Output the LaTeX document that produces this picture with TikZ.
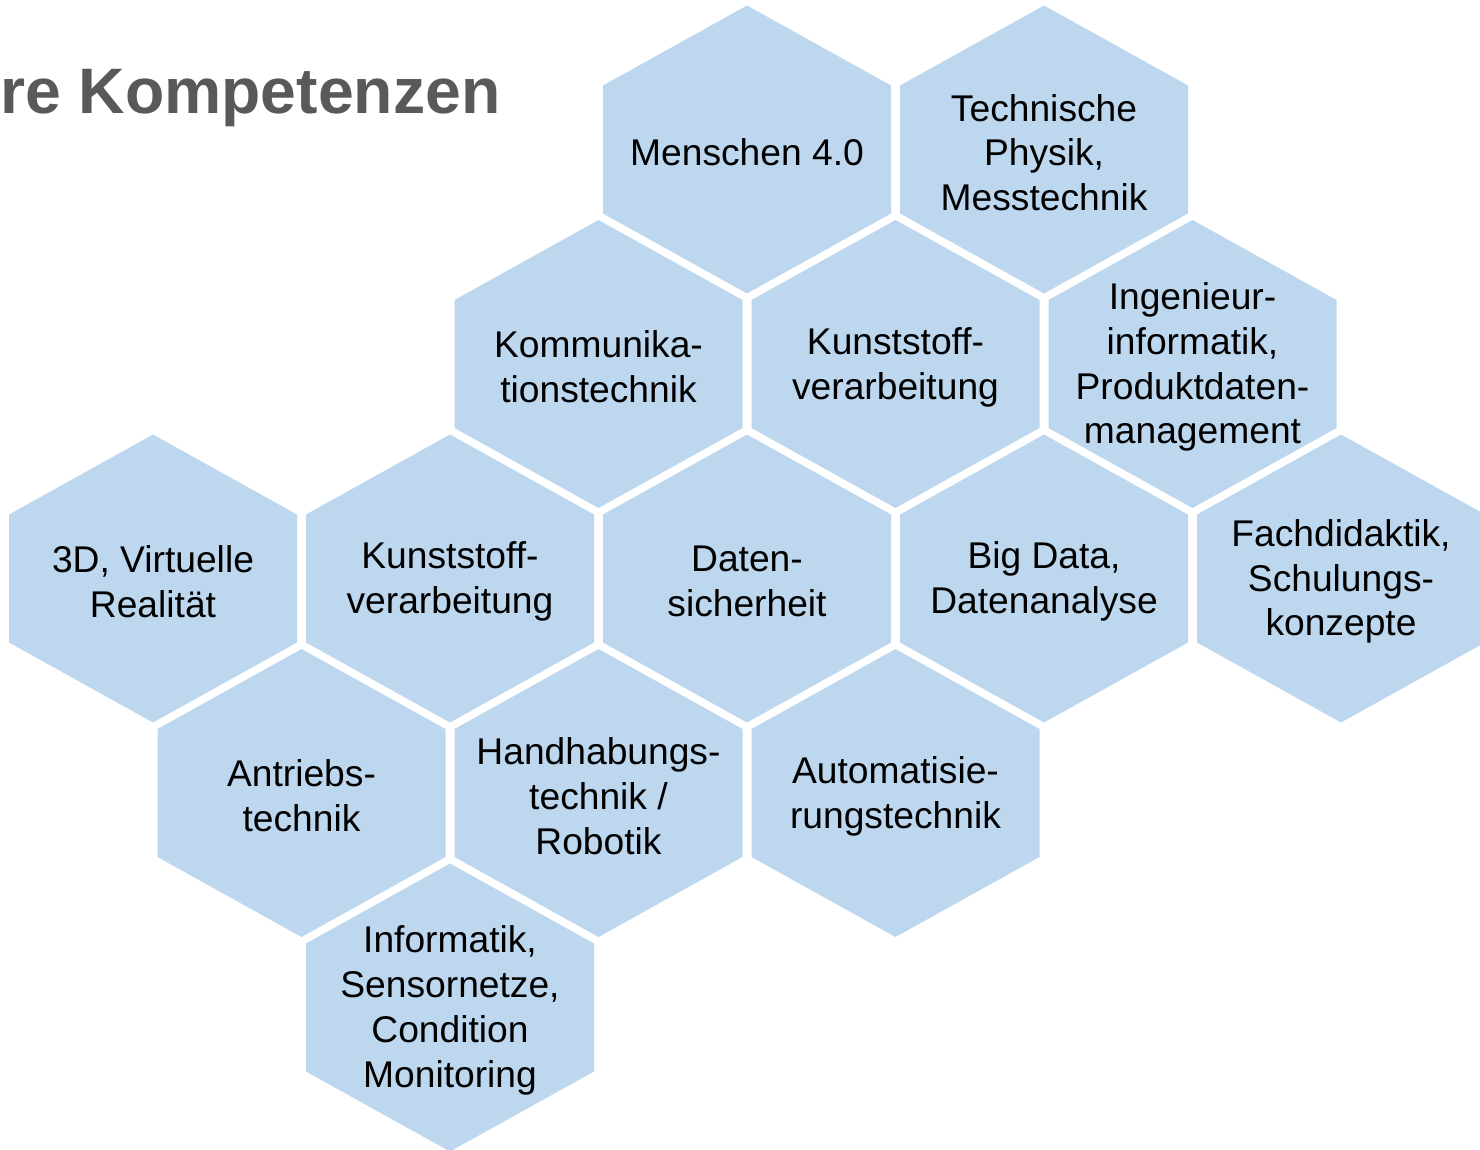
\documentclass[tikz,border=0pt]{standalone}
\usepackage{fontspec}
\setmainfont{Liberation Sans}
\definecolor{hexblue}{RGB}{189,215,238}
\definecolor{titlegray}{RGB}{89,89,89}
\tikzset{
  hexfill/.style={fill=hexblue},
  hextext/.style={align=center, text=black, font=\fontsize{37.2}{44.8}\selectfont, inner sep=0pt},
  titletext/.style={anchor=base west, text=titlegray, font=\fontsize{64.3}{70}\selectfont\bfseries, inner sep=0pt}
}
\newcommand{\hexcell}[4]{%
  \fill[hexfill] (#2,#3) +(0,-144) -- +(144,-64) -- +(144,64) -- +(0,144) -- +(-144,64) -- +(-144,-64) -- cycle;
  \node[hextext] (#1) at ([yshift=-3pt]#2,#3) {#4};}
\begin{document}
\begin{tikzpicture}[x=1pt,y=-1pt]
\useasboundingbox (0,0) rectangle (1480,1149);
\clip (0,0) rectangle (1480,1149);
\node[titletext] (title) at (0,113) {re Kompetenzen};
% row 0
\hexcell{menschen}{747}{149.5}{Menschen 4.0}
\hexcell{physik}{1044}{149.5}{Technische\\Physik,\\Messtechnik}
% row 1
\hexcell{kommunikation}{598.5}{364}{Kommunika-\\tionstechnik}
\hexcell{kunststoffa}{895.5}{364}{Kunststoff-\\verarbeitung}
\hexcell{ingenieur}{1192.5}{364}{Ingenieur-\\informatik,\\Produktdaten-\\management}
% row 2
\hexcell{virtuell}{153}{578.5}{3D, Virtuelle\\Realität}
\hexcell{kunststoffb}{450}{578.5}{Kunststoff-\\verarbeitung}
\hexcell{datensicher}{747}{578.5}{Daten-\\sicherheit}
\hexcell{bigdata}{1044}{578.5}{Big Data,\\Datenanalyse}
\hexcell{fachdidaktik}{1341}{578.5}{Fachdidaktik,\\Schulungs-\\konzepte}
% row 3
\hexcell{antrieb}{301.5}{793}{Antriebs-\\technik}
\hexcell{handhabung}{598.5}{793}{Handhabungs-\\technik /\\Robotik}
\hexcell{automatisierung}{895.5}{793}{Automatisie-\\rungstechnik}
% row 4
\hexcell{informatik}{450}{1007.5}{Informatik,\\Sensornetze,\\Condition\\Monitoring}
\end{tikzpicture}
\end{document}
